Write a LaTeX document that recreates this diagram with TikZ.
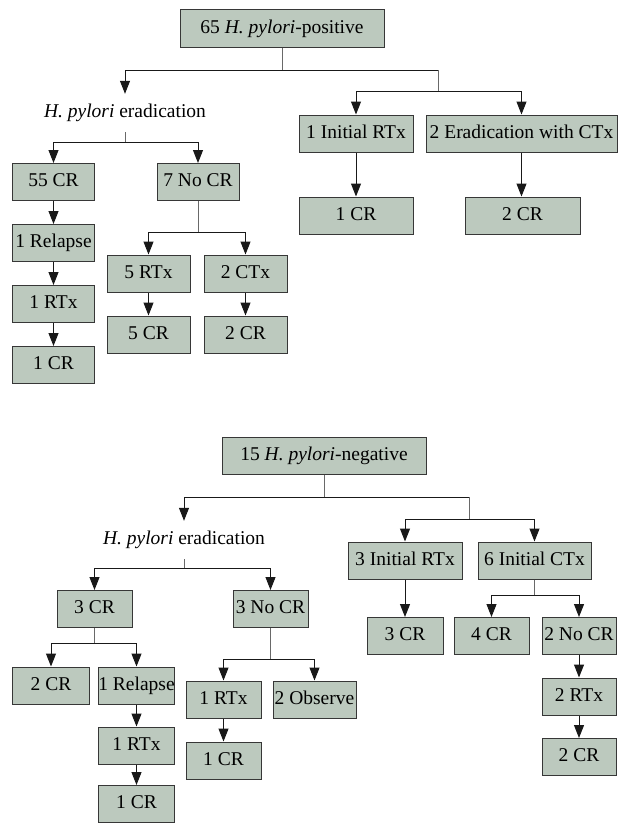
\documentclass[tikz,border=0pt]{standalone}
\usepackage{fontspec}
\setmainfont{Liberation Serif}
\usetikzlibrary{arrows.meta}
\definecolor{boxfill}{RGB}{188,201,190}
\definecolor{boxline}{RGB}{55,55,55}
\definecolor{stemcol}{RGB}{105,105,105}
\definecolor{branchcol}{RGB}{25,25,25}
\tikzset{
  bx/.style={draw=boxline, fill=boxfill, line width=1bp, inner sep=0pt,
    minimum height=37bp, minimum width=#1,
    font=\fontsize{19.5bp}{22bp}\selectfont, text height=13bp, text depth=4bp},
  lbl/.style={inner sep=0pt, minimum height=38bp,
    font=\fontsize{19.5bp}{22bp}\selectfont, text height=13bp, text depth=4bp},
  stem/.style={draw=stemcol, line width=1bp},
  branch/.style={draw=branchcol, line width=1bp},
  arr/.style={draw=branchcol, line width=1bp, -{Triangle[length=13bp,width=10bp]}},
}
\begin{document}
\begin{tikzpicture}[x=1bp,y=-1bp]
\useasboundingbox[fill=white] (0,0) rectangle (620,823);

% ---------- top tree ----------
\node[bx=204bp] (p65) at (282,28.5) {65 \textit{H. pylori}-positive};
\node[lbl] (e1) at (125,113) {\textit{H. pylori} eradication};
\node[bx=81bp] (cr55) at (53.5,182) {55 CR};
\node[bx=82bp] (nc7) at (198,182) {7 No CR};
\node[bx=81bp] (rel1) at (53.5,243) {1 Relapse};
\node[bx=81bp] (rtx1a) at (53.5,304) {1 RTx};
\node[bx=81bp] (cr1a) at (53.5,365) {1 CR};
\node[bx=83bp] (rtx5) at (148.5,273.5) {5 RTx};
\node[bx=83bp] (ctx2) at (245.5,273.5) {2 CTx};
\node[bx=83bp] (cr5) at (148.5,334.5) {5 CR};
\node[bx=83bp] (cr2a) at (245.5,334.5) {2 CR};
\node[bx=114bp] (ir1) at (356,133.5) {1 Initial RTx};
\node[bx=191bp] (ec2) at (521.5,133.5) {2 Eradication with CTx};
\node[bx=114bp] (cr1b) at (356,215.5) {1 CR};
\node[bx=115bp] (cr2b) at (522.5,215.5) {2 CR};

\coordinate (t0) at (282,70);
\coordinate (t0r) at (438,70);
\coordinate (t1) at (438,91);
\coordinate (t2) at (125,142);
\coordinate (t3) at (198,232);

\draw[stem] (p65.south) -- (t0);
\draw[arr] (t0) -| (e1.north);
\draw[branch] (t0) -- (t0r);
\draw[stem] (t0r) -- (t1);
\draw[arr] (t1) -| (ir1.north);
\draw[arr] (t1) -| (ec2.north);
\draw[stem] (e1.south) -- (t2);
\draw[arr] (t2) -| (cr55.north);
\draw[arr] (t2) -| (nc7.north);
\draw[arr] (cr55) -- (rel1);
\draw[arr] (rel1) -- (rtx1a);
\draw[arr] (rtx1a) -- (cr1a);
\draw[stem] (nc7.south) -- (t3);
\draw[arr] (t3) -| (rtx5.north);
\draw[arr] (t3) -| (ctx2.north);
\draw[arr] (rtx5) -- (cr5);
\draw[arr] (ctx2) -- (cr2a);
\draw[arr] (ir1) -- (cr1b);
\draw[arr] (ec2.south) -- (cr2b.north -| ec2.south);

% ---------- bottom tree ----------
\node[bx=204bp] (n15) at (324,455.5) {15 \textit{H. pylori}-negative};
\node[lbl] (e2) at (184,540) {\textit{H. pylori} eradication};
\node[bx=75bp] (cr3) at (94.5,609) {3 CR};
\node[bx=75bp] (nc3) at (270.5,609) {3 No CR};
\node[bx=76bp] (cr2c) at (51,685.5) {2 CR};
\node[bx=76bp] (rel1b) at (136.5,685.5) {1 Relapse};
\node[bx=76bp] (rtx1b) at (136.5,745.5) {1 RTx};
\node[bx=76bp] (cr1c) at (136.5,804) {1 CR};
\node[bx=75bp] (rtx1c) at (223.5,699.5) {1 RTx};
\node[bx=83bp] (obs2) at (314.5,699.5) {2 Observe};
\node[bx=75bp] (cr1d) at (223.5,760.5) {1 CR};
\node[bx=114bp] (ir3) at (405,560.5) {3 Initial RTx};
\node[bx=113bp] (ic6) at (534.5,560.5) {6 Initial CTx};
\node[bx=76bp] (cr3b) at (405,636) {3 CR};
\node[bx=75bp] (cr4) at (491.5,636) {4 CR};
\node[bx=74bp] (nc2) at (579,636) {2 No CR};
\node[bx=74bp] (rtx2) at (579,696.5) {2 RTx};
\node[bx=74bp] (cr2d) at (579,757) {2 CR};

\coordinate (b0) at (324,497);
\coordinate (b0r) at (469,497);
\coordinate (b1) at (469,519);
\coordinate (b2) at (184,568);
\coordinate (b3) at (94.5,643);
\coordinate (b4) at (270.5,659);
\coordinate (b5) at (534.5,595);

\draw[stem] (n15.south) -- (b0);
\draw[arr] (b0) -| (e2.north);
\draw[branch] (b0) -- (b0r);
\draw[stem] (b0r) -- (b1);
\draw[arr] (b1) -| (ir3.north);
\draw[arr] (b1) -| (ic6.north);
\draw[stem] (e2.south) -- (b2);
\draw[arr] (b2) -| (cr3.north);
\draw[arr] (b2) -| (nc3.north);
\draw[stem] (cr3.south) -- (b3);
\draw[arr] (b3) -| (cr2c.north);
\draw[arr] (b3) -| (rel1b.north);
\draw[arr] (rel1b) -- (rtx1b);
\draw[arr] (rtx1b) -- (cr1c);
\draw[stem] (nc3.south) -- (b4);
\draw[arr] (b4) -| (rtx1c.north);
\draw[arr] (b4) -| (obs2.north);
\draw[arr] (rtx1c) -- (cr1d);
\draw[arr] (ir3) -- (cr3b);
\draw[stem] (ic6.south) -- (b5);
\draw[arr] (b5) -| (cr4.north);
\draw[arr] (b5) -| (nc2.north);
\draw[arr] (nc2) -- (rtx2);
\draw[arr] (rtx2) -- (cr2d);
\end{tikzpicture}
\end{document}
